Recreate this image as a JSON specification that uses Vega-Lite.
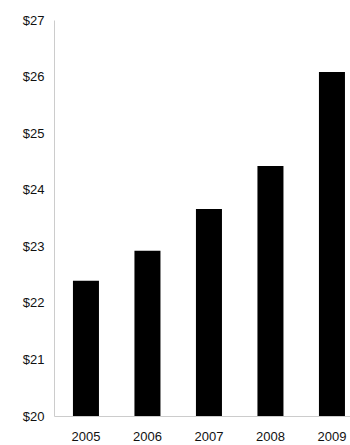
{
  "$schema": "https://vega.github.io/schema/vega-lite/v6.json",
  "autosize": {"type": "none"},
  "padding": {"left": 54, "top": 20, "right": 0, "bottom": 29},
  "width": 296,
  "height": 396,
  "background": "white",
  "data": {"values": [
    {"year": "2005", "value": 22.39},
    {"year": "2006", "value": 22.92},
    {"year": "2007", "value": 23.66},
    {"year": "2008", "value": 24.42},
    {"year": "2009", "value": 26.08}
  ]},
  "mark": {"type": "bar", "color": "#000000"},
  "encoding": {
    "x": {
      "field": "year", "type": "nominal",
      "scale": {"paddingInner": 0.577, "paddingOuter": 0.195, "align": 0.79},
      "axis": {"title": null, "labelAngle": 0, "ticks": false, "labelPadding": 14,
               "domainColor": "#cccccc", "labelFont": "Liberation Sans", "labelFontSize": 13,
               "labelColor": "#111111"}
    },
    "y": {
      "field": "value", "type": "quantitative",
      "scale": {"domain": [20, 27], "nice": false, "zero": false},
      "axis": {"title": null, "grid": false, "ticks": false, "values": [20,21,22,23,24,25,26,27],
               "format": "$d", "labelPadding": 10, "domainColor": "#cccccc",
               "labelFont": "Liberation Sans", "labelFontSize": 13, "labelColor": "#111111"}
    },
    "y2": {"datum": 20}
  },
  "config": {"view": {"stroke": null}}
}
